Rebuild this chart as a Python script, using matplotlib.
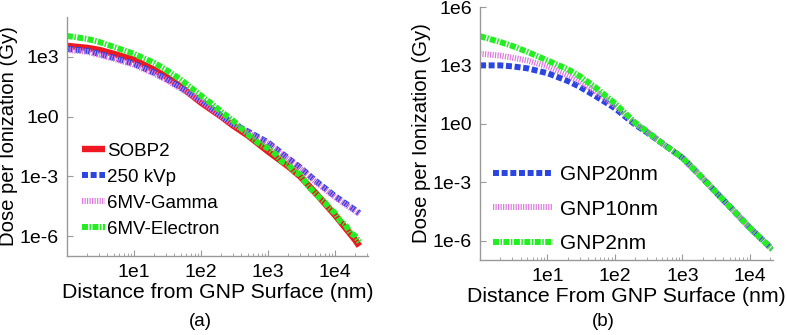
import numpy as np
import matplotlib.pyplot as plt
from matplotlib.ticker import FixedLocator, FixedFormatter, LogLocator, NullLocator

plt.rcParams['font.family'] = ['Liberation Sans', 'DejaVu Sans']

# distancias (nm)
dist = [1, 2, 3, 5, 10, 20, 30, 50, 100, 200, 300, 500, 1000, 2000, 3000, 5000, 10000, 20000, 23000]

# painel (a): log10 da dose por ionizacao
sobp2 = [3.55, 3.45, 3.35, 3.15, 2.85, 2.35, 2.0, 1.5, 0.7, 0.0, -0.45, -0.95, -1.75, -2.5, -3.0, -3.8, -4.95, -6.2, -6.5]
kvp250 = [3.4, 3.3, 3.15, 2.95, 2.65, 2.2, 1.9, 1.45, 0.8, 0.05, -0.35, -0.75, -1.3, -2.1, -2.55, -3.2, -4.0, -4.7, -4.85]
gamma6mv = [3.35, 3.25, 3.1, 2.9, 2.6, 2.15, 1.85, 1.4, 0.78, 0.02, -0.38, -0.8, -1.35, -2.15, -2.6, -3.25, -4.05, -4.75, -4.9]

# 6MV-Electron tem mais pontos (curva ruidosa no final)
dist_e = [1, 2, 3, 5, 10, 20, 30, 50, 100, 150, 200, 250, 300, 400, 500, 700, 1000, 1300, 1600, 2000,
          2500, 3000, 4000, 5000, 6000, 7000, 8000, 10000, 12000, 14000, 17000, 20000, 23000]
electron6mv = [4.05, 3.9, 3.75, 3.5, 3.15, 2.7, 2.35, 1.85, 1.05, 0.6, 0.25, 0.0, -0.2, -0.6, -0.9, -1.3,
               -1.6, -1.9, -2.25, -2.4, -2.8, -2.9, -3.5, -3.85, -4.1, -4.3, -4.55, -4.85, -5.25, -5.4,
               -5.85, -6.0, -6.3]

# painel (b)
dist_b = [1, 2, 3, 5, 10, 20, 30, 50, 100, 200, 300, 500, 1000, 2000, 3000, 5000, 10000, 20000, 21500]
gnp20 = [3.0, 3.0, 2.95, 2.85, 2.6, 2.2, 1.9, 1.45, 0.8, -0.05, -0.45, -1.0, -1.75, -2.8, -3.45, -4.25, -5.35, -6.35, -6.45]
gnp10 = [3.6, 3.5, 3.4, 3.25, 2.95, 2.5, 2.15, 1.7, 0.95, 0.0, -0.42, -1.0, -1.75, -2.8, -3.45, -4.25, -5.35, -6.35, -6.45]
gnp2 = [4.5, 4.2, 4.0, 3.7, 3.25, 2.8, 2.45, 1.9, 1.05, 0.05, -0.4, -1.0, -1.75, -2.8, -3.45, -4.25, -5.35, -6.35, -6.45]

red = '#EE1822'
blue = '#2B45E0'
pink = '#DD77DD'
green = '#22EE22'

fig = plt.figure(figsize=(7.87, 3.35), dpi=100)
axA = fig.add_axes([67/787, 1-256/335, 301/787, 239/335])
axB = fig.add_axes([480/787, 1-260/335, 293/787, 253/335])


def styleAxis(ax, xlabel, ylim, yticks):
    ax.set_xscale('log')
    ax.set_yscale('log')
    ax.set_ylim(ylim)
    for s in ['top', 'right']:
        ax.spines[s].set_visible(False)
    for s in ['left', 'bottom']:
        ax.spines[s].set_color('#999999')
        ax.spines[s].set_linewidth(1.0)
    ax.xaxis.set_major_locator(FixedLocator([1e1, 1e2, 1e3, 1e4]))
    ax.xaxis.set_major_formatter(FixedFormatter(['1e1', '1e2', '1e3', '1e4']))
    ax.xaxis.set_minor_locator(LogLocator(base=10, subs=np.arange(2, 10)))
    ax.yaxis.set_major_locator(FixedLocator(yticks))
    ax.yaxis.set_major_formatter(FixedFormatter(['1e%d' % int(np.log10(t)) for t in yticks]))
    ax.yaxis.set_minor_locator(NullLocator())
    ax.tick_params(which='major', direction='in', length=4, color='#999999', labelsize=14, pad=6)
    ax.tick_params(which='minor', direction='in', length=2, color='#999999')
    ax.set_xlabel(xlabel, fontsize=15.3, labelpad=1)
    ax.set_ylabel('Dose per Ionization (Gy)', fontsize=14.6, labelpad=1)


lw = 4.3
# (a)
axA.plot(dist, 10**np.array(sobp2), color=red, lw=4.6, solid_capstyle='butt', label='SOBP2')
axA.plot(dist, 10**np.array(kvp250), color=blue, lw=lw, dashes=(1, 0.45), dash_capstyle='butt', label='250 kVp')
axA.plot(dist, 10**np.array(gamma6mv), color=pink, lw=lw, dashes=(0.2, 0.22), dash_capstyle='butt', label='6MV-Gamma')
axA.plot(dist_e, 10**np.array(electron6mv), color=green, lw=lw, dashes=(1, 0.25, 0.25, 0.25), dash_capstyle='butt', label='6MV-Electron')
axA.set_xlim(1, 3.1e4)
styleAxis(axA, 'Distance from GNP Surface (nm)', (1e-7, 1e5), [1e-6, 1e-3, 1e0, 1e3])
axA.legend(loc='upper left', bbox_to_anchor=(0.05, 0.475), frameon=False, fontsize=13.5,
           handlelength=1.25, handletextpad=0.1, labelspacing=0.48, borderpad=0, borderaxespad=0)

# (b)
axB.plot(dist_b, 10**np.array(gnp20), color=blue, lw=lw, dashes=(1, 0.45), dash_capstyle='butt', label='GNP20nm')
axB.plot(dist_b, 10**np.array(gnp10), color=pink, lw=lw, dashes=(0.2, 0.22), dash_capstyle='butt', label='GNP10nm')
axB.plot(dist_b, 10**np.array(gnp2), color=green, lw=lw, dashes=(1, 0.25, 0.25, 0.25), dash_capstyle='butt', label='GNP2nm')
axB.set_xlim(1, 2.2e4)
styleAxis(axB, 'Distance From GNP Surface (nm)', (1e-7, 1e6), [1e-6, 1e-3, 1e0, 1e3, 1e6])
axB.legend(loc='upper left', bbox_to_anchor=(0.044, 0.375), frameon=False, fontsize=15,
           handlelength=2.9, handletextpad=0.33, labelspacing=0.75, borderpad=0, borderaxespad=0)

fig.text(200/787, 1-322/335, '(a)', fontsize=13.5, ha='center', va='center')
fig.text(603/787, 1-322/335, '(b)', fontsize=13.5, ha='center', va='center')

fig.savefig('out.png', dpi=100)
